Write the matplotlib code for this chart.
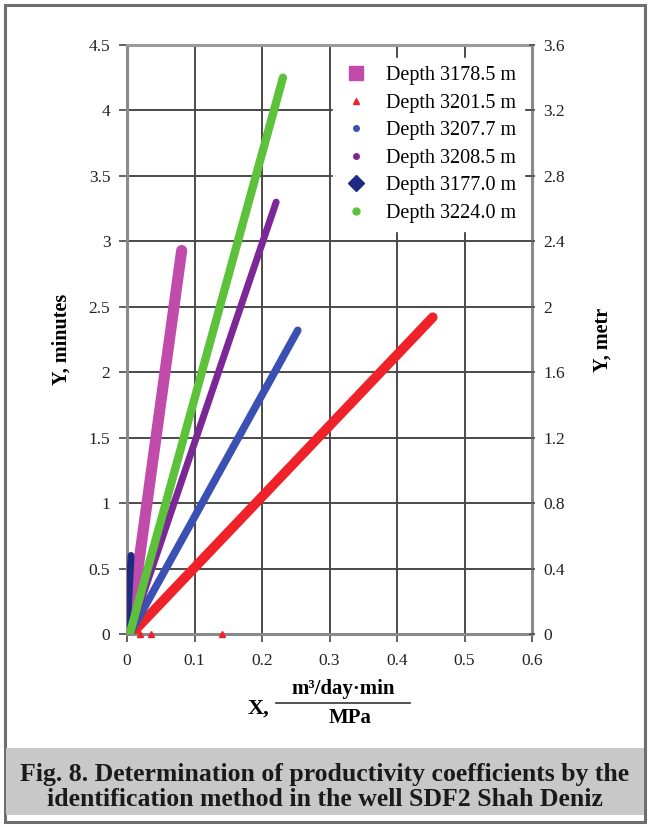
import matplotlib
matplotlib.use("Agg")
import matplotlib.pyplot as plt
from matplotlib.lines import Line2D
from matplotlib.patches import Rectangle

plt.rcParams['font.family'] = ['Liberation Serif', 'DejaVu Serif']

# ---- data ----
labels = ["Depth 3178.5 m", "Depth 3201.5 m", "Depth 3207.7 m",
          "Depth 3208.5 m", "Depth 3177.0 m", "Depth 3224.0 m"]
x_3178_5 = [0.003, 0.081]
y_3178_5 = [0.0, 2.93]
x_3201_5 = [0.012, 0.453]
y_3201_5 = [0.03, 2.42]
x_3207_7 = [0.004, 0.253]
y_3207_7 = [0.0, 2.32]
x_3208_5 = [0.004, 0.221]
y_3208_5 = [0.0, 3.30]
x_3177_0 = [0.0, 0.006]
y_3177_0 = [0.0, 0.60]
x_3224_0 = [0.004, 0.231]
y_3224_0 = [0.0, 4.25]
red_pts_x = [0.019, 0.035, 0.140]
red_pts_y = [0.0, 0.0, 0.0]

xticks = [0, 0.1, 0.2, 0.3, 0.4, 0.5, 0.6]
xtick_labels = ["0", "0.1", "0.2", "0.3", "0.4", "0.5", "0.6"]
yticks_left = [0, 0.5, 1, 1.5, 2, 2.5, 3, 3.5, 4, 4.5]
ytick_left_labels = ["0", "0.5", "1", "1.5", "2", "2.5", "3", "3.5", "4", "4.5"]
yticks_right = [0, 0.4, 0.8, 1.2, 1.6, 2.0, 2.4, 2.8, 3.2, 3.6]
ytick_right_labels = ["0", "0.4", "0.8", "1.2", "1.6", "2", "2.4", "2.8", "3.2", "3.6"]

colors = ["#c04bab", "#ee2228", "#3a50b2", "#7c2796", "#1f2a82", "#5cc23a"]
markers = ["s", "^", "o", "o", "D", "o"]
msizes = [10, 5, 4, 4, 8, 5]
lws = [8, 7, 5.5, 5, 5, 6]

fig = plt.figure(figsize=(6.5, 8.27), dpi=100)

# outer border and caption band
fig.patches.append(Rectangle((5/650, 5/827), 640/650, 817/827, transform=fig.transFigure,
                             fill=False, edgecolor="#6e6e6e", lw=2.2, zorder=0))
fig.patches.append(Rectangle((6/650, 1-815/827), 638/650, (815-748)/827, transform=fig.transFigure,
                             facecolor="#c8c8c8", edgecolor="none", zorder=0))

ax = fig.add_axes([127/650, 1-634/827, (532-127)/650, (634-45)/827])
ax.set_xlim(0, 0.6)
ax.set_ylim(0, 4.5)

series = [(x_3178_5, y_3178_5), (x_3201_5, y_3201_5), (x_3207_7, y_3207_7),
          (x_3208_5, y_3208_5), (x_3177_0, y_3177_0), (x_3224_0, y_3224_0)]
for (xs, ys), c, lw in zip(series, colors, lws):
    ax.plot(xs, ys, color=c, lw=lw, solid_capstyle="round", zorder=3)
ax.plot(red_pts_x, red_pts_y, linestyle="none", marker="^", color=colors[1],
        markersize=4, zorder=4, clip_on=False)

ax.set_xticks(xticks)
ax.set_xticklabels(xtick_labels, fontsize=12.5)
ax.set_yticks(yticks_left)
ax.set_yticklabels(ytick_left_labels, fontsize=12.5)
ax.grid(True, color="#4a4a4a", lw=1.4)
ax.set_axisbelow(True)
for s in ["left", "right", "top", "bottom"]:
    ax.spines[s].set_color("#8a8a8a")
    ax.spines[s].set_linewidth(2.2)
ax.spines["top"].set_color("#9a9a9a")
ax.tick_params(axis="both", colors="#555555", length=6, width=1.3, labelcolor="#222222")
ax.tick_params(axis="x", pad=8)
ax.tick_params(axis="y", pad=6)

ax.set_ylabel("Y, minutes", fontsize=14.5, fontweight="bold", labelpad=12)

ax2 = ax.twinx()
ax2.set_ylim(0, 3.6)
ax2.set_yticks(yticks_right)
ax2.set_yticklabels(ytick_right_labels, fontsize=12.5)
ax2.tick_params(axis="y", colors="#555555", length=4, width=1.3, direction="inout",
                labelcolor="#222222", pad=6)
for s in ["left", "right", "top", "bottom"]:
    ax2.spines[s].set_visible(False)
ax2.set_ylabel("Y, metr", fontsize=14.5, fontweight="bold", labelpad=20)

handles = [Line2D([], [], linestyle="none", marker=m, color=c, markersize=ms)
           for m, c, ms in zip(markers, colors, msizes)]
leg = ax2.legend(handles, labels, loc="upper right", bbox_to_anchor=(1.005, 0.995),
                 fontsize=14.5, frameon=True, fancybox=False, edgecolor="white",
                 framealpha=1, handletextpad=0.8, labelspacing=0.42, borderpad=0.4,
                 handlelength=1.4)

# x-axis label as a fraction
fig.text(258/650, 1-709/827, "X,", fontsize=16, fontweight="bold", ha="center", va="center")
fig.text(343/650, 1-689/827, "m\u00b3/day\u00b7min", fontsize=15, fontweight="bold",
         ha="center", va="center")
fig.lines.append(Line2D([276/650, 410/650], [1-703/827, 1-703/827], transform=fig.transFigure,
                        color="#333333", lw=1.2))
fig.text(350/650, 1-718/827, "MPa", fontsize=15, fontweight="bold", ha="center", va="center")

fig.text(0.5, 1-775/827, "Fig. 8. Determination of productivity coefficients by the",
         fontsize=18.5, fontweight="bold", ha="center", va="center", color="#1a1a1a")
fig.text(0.5, 1-800/827, "identification method in the well SDF2 Shah Deniz",
         fontsize=18.5, fontweight="bold", ha="center", va="center", color="#1a1a1a")

fig.savefig("out.png", dpi=100)
